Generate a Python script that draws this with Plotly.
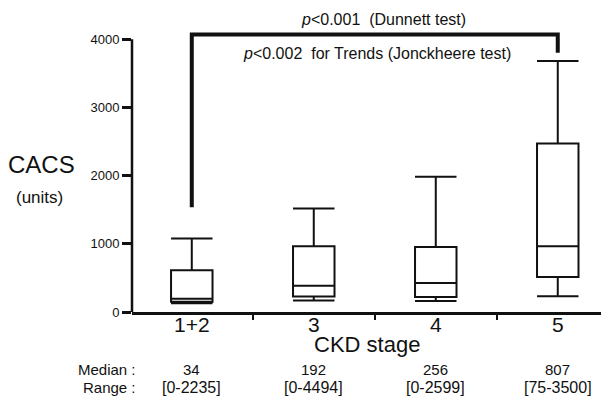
import plotly.graph_objects as go

# Data
categories = ["1+2", "3", "4", "5"]
x_pos = [0, 1, 2, 3]
lower_fence = [130, 167, 161, 230]
q1_vals = [150, 226, 220, 514]
medians = [195, 384, 426, 965]
q3_vals = [612, 964, 955, 2472]
upper_fence = [1078, 1516, 1982, 3681]
median_labels = ["34", "192", "256", "807"]
range_labels = ["[0-2235]", "[0-4494]", "[0-2599]", "[75-3500]"]
y_ticks = [0, 1000, 2000, 3000, 4000]
bracket_x = [0, 0, 3, 3]
bracket_y = [1535, 4070, 4070, 3800]

FONT = "Arial, Liberation Sans, sans-serif"
INK = "#111111"

fig = go.Figure()
fig.add_trace(go.Box(
    x=x_pos, q1=q1_vals, median=medians, q3=q3_vals,
    lowerfence=lower_fence, upperfence=upper_fence,
    width=0.34, whiskerwidth=1,
    line=dict(color=INK, width=2), fillcolor="white",
    boxpoints=False, showlegend=False, hoverinfo="skip",
))
fig.add_trace(go.Scatter(
    x=bracket_x, y=bracket_y, mode="lines",
    line=dict(color=INK, width=4), showlegend=False, hoverinfo="skip",
))

# y axis line from 0 to 4000
fig.add_shape(type="line", xref="paper", yref="y", x0=0, x1=0, y0=0, y1=4000,
              line=dict(color=INK, width=2.5))

annotations = [
    dict(text="<i>p</i>&lt;0.001  (Dunnett test)", x=1.57, y=1.035, xref="x", yref="paper",
         yanchor="middle", font=dict(size=16, color=INK), showarrow=False),
    dict(text="<i>p</i>&lt;0.002  for Trends (Jonckheere test)", x=1.52, y=3784, xref="x", yref="y",
         yanchor="middle", font=dict(size=16, color=INK), showarrow=False),
    dict(text="CACS", x=-0.49, y=2169, xref="x", yref="y", xanchor="center",
         xshift=-91, font=dict(size=24, color=INK), showarrow=False),
    dict(text="(units)", x=-0.49, y=1684, xref="x", yref="y", xanchor="center",
         xshift=-93, font=dict(size=17, color=INK), showarrow=False),
    dict(text="CKD stage", x=1.44, y=-0.115, xref="x", yref="paper", yanchor="middle",
         font=dict(size=22, color=INK), showarrow=False),
    dict(text="Median :", x=-0.443, y=-0.203, xref="x", yref="paper", xanchor="right",
         yanchor="middle", font=dict(size=15, color=INK), showarrow=False),
    dict(text="Range :", x=-0.443, y=-0.266, xref="x", yref="paper", xanchor="right",
         yanchor="middle", font=dict(size=15, color=INK), showarrow=False),
]
for xp, c, m, r in zip(x_pos, categories, median_labels, range_labels):
    annotations.append(dict(text=c, x=xp, y=0, xref="x", yref="y", yanchor="middle",
                            yshift=-12, font=dict(size=21, color=INK), showarrow=False))
    annotations.append(dict(text=m, x=xp, y=-0.203, xref="x", yref="paper", yanchor="middle",
                            font=dict(size=15, color=INK), showarrow=False))
    annotations.append(dict(text=r, x=xp, y=-0.266, xref="x", yref="paper", yanchor="middle",
                            font=dict(size=16, color=INK), showarrow=False))

# The page body adds an 8px margin, so the figure is 8px smaller than the window
fig.update_layout(
    width=601, height=394,
    margin=dict(l=124, r=0, t=21, b=90),
    paper_bgcolor="white", plot_bgcolor="white",
    font=dict(family=FONT, color=INK),
    annotations=annotations,
    xaxis=dict(
        range=[-0.49, 3.42], tickvals=x_pos, ticktext=categories,
        showticklabels=False,
        ticks="", showgrid=False, zeroline=False,
        showline=True, linecolor=INK, linewidth=3,
        minor=dict(tick0=0.5, dtick=1, ticks="outside", ticklen=5, tickwidth=2, tickcolor=INK),
    ),
    yaxis=dict(
        range=[0, 4150], tickvals=y_ticks, ticks="outside", ticklen=9, tickwidth=2.5,
        tickcolor=INK, showgrid=False, zeroline=False, showline=False,
        tickfont=dict(size=13, color=INK),
    ),
)

fig.write_html("out.html")
